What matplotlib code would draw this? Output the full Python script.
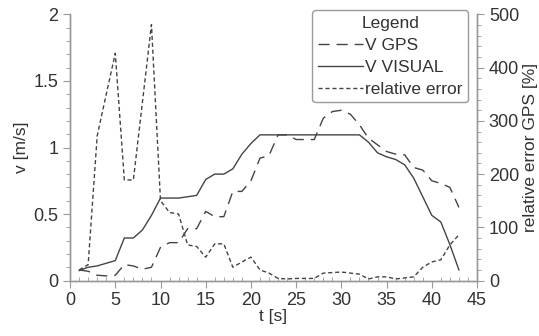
import numpy as np
import matplotlib
matplotlib.use("Agg")
import matplotlib.pyplot as plt
from matplotlib.ticker import MultipleLocator

plt.rcParams['font.family'] = ['Liberation Sans', 'DejaVu Sans']

t = list(range(1, 44))
v_gps = [0.08, 0.07, 0.04, 0.035, 0.04, 0.12, 0.11, 0.085, 0.10, 0.25,
         0.285, 0.285, 0.39, 0.39, 0.52, 0.48, 0.48, 0.67, 0.67, 0.75,
         0.92, 0.94, 1.095, 1.095, 1.06, 1.06, 1.06, 1.22, 1.27, 1.28,
         1.25, 1.17, 1.07, 1.02, 0.97, 0.95, 0.945, 0.85, 0.83, 0.75,
         0.73, 0.70, 0.55]
v_visual = [0.075, 0.10, 0.11, 0.13, 0.15, 0.32, 0.32, 0.38, 0.49, 0.62,
            0.62, 0.62, 0.63, 0.64, 0.76, 0.80, 0.80, 0.84, 0.95, 1.03,
            1.095, 1.095, 1.095, 1.095, 1.095, 1.095, 1.095, 1.095, 1.095, 1.095,
            1.095, 1.095, 1.04, 0.96, 0.93, 0.91, 0.87, 0.77, 0.63, 0.49,
            0.44, 0.27, 0.08]
rel_err = [20, 30, 272, 350, 427, 189, 189, 335, 481, 150,
           128, 125, 67, 64, 44, 69, 69, 25, 35, 44,
           20, 14, 4, 3, 4, 4, 4, 14, 15, 16,
           14, 12, 3, 7, 7, 3, 5, 7, 25, 35,
           39, 67, 86]

spine_c = "#999999"
line_c = "#444444"
text_c = "#333333"

fig = plt.figure(figsize=(5.39, 3.36), dpi=100)
ax = fig.add_axes([0.130, 0.165, 0.755, 0.792])
ax2 = ax.twinx()

l1, = ax.plot(t, v_gps, color=line_c, lw=1.0, dashes=(8, 5), label="V GPS")
l2, = ax.plot(t, v_visual, color=line_c, lw=1.0, label="V VISUAL")
l3, = ax2.plot(t, rel_err, color=line_c, lw=1.0, dashes=(3, 2), label="relative error")

ax.set_xlim(0, 45)
ax.set_ylim(0, 2)
ax2.set_ylim(0, 500)

ax.xaxis.set_major_locator(MultipleLocator(5))
ax.xaxis.set_minor_locator(MultipleLocator(1))
ax.yaxis.set_minor_locator(MultipleLocator(0.1))
ax2.yaxis.set_major_locator(MultipleLocator(100))
ax2.yaxis.set_minor_locator(MultipleLocator(20))
ax.set_yticks([0, 0.5, 1, 1.5, 2])
ax.set_yticklabels(["0", "0.5", "1", "1.5", "2"])

for a in (ax, ax2):
    a.spines['top'].set_visible(False)
    for s in a.spines.values():
        s.set_color(spine_c)
        s.set_linewidth(1.0)

ax.tick_params(axis='x', which='major', direction='out', length=5, color=spine_c,
               labelsize=13, labelcolor=text_c, pad=3)
ax.tick_params(axis='x', which='minor', direction='in', length=3, color=spine_c)
ax.tick_params(axis='y', which='major', direction='out', length=5, color=spine_c,
               labelsize=13, labelcolor=text_c)
ax.tick_params(axis='y', which='minor', direction='out', length=3, color=spine_c)
ax2.tick_params(axis='y', which='major', direction='out', length=5, color=spine_c,
                labelsize=13, labelcolor=text_c)
ax2.tick_params(axis='y', which='minor', direction='out', length=3, color=spine_c)

ax.set_xlabel("t [s]", fontsize=12.5, color=text_c, labelpad=0)
ax.set_ylabel("v [m/s]", fontsize=12.5, color=text_c, labelpad=3)
ax2.set_ylabel("relative error GPS [%]", fontsize=12.5, color=text_c, labelpad=3)

leg = ax.legend(handles=[l1, l2, l3], title="Legend", loc="upper right",
                bbox_to_anchor=(0.978, 1.015), fontsize=12.5, title_fontsize=12.5,
                handlelength=2.6, handletextpad=0.15, borderpad=0.3,
                labelspacing=0.4, fancybox=True, framealpha=1,
                edgecolor=spine_c, borderaxespad=0.0)
for txt in leg.get_texts():
    txt.set_color(text_c)
leg.get_title().set_color(text_c)
leg.get_frame().set_linewidth(1.0)
leg.set_zorder(5)

fig.savefig("out.png", dpi=100)
